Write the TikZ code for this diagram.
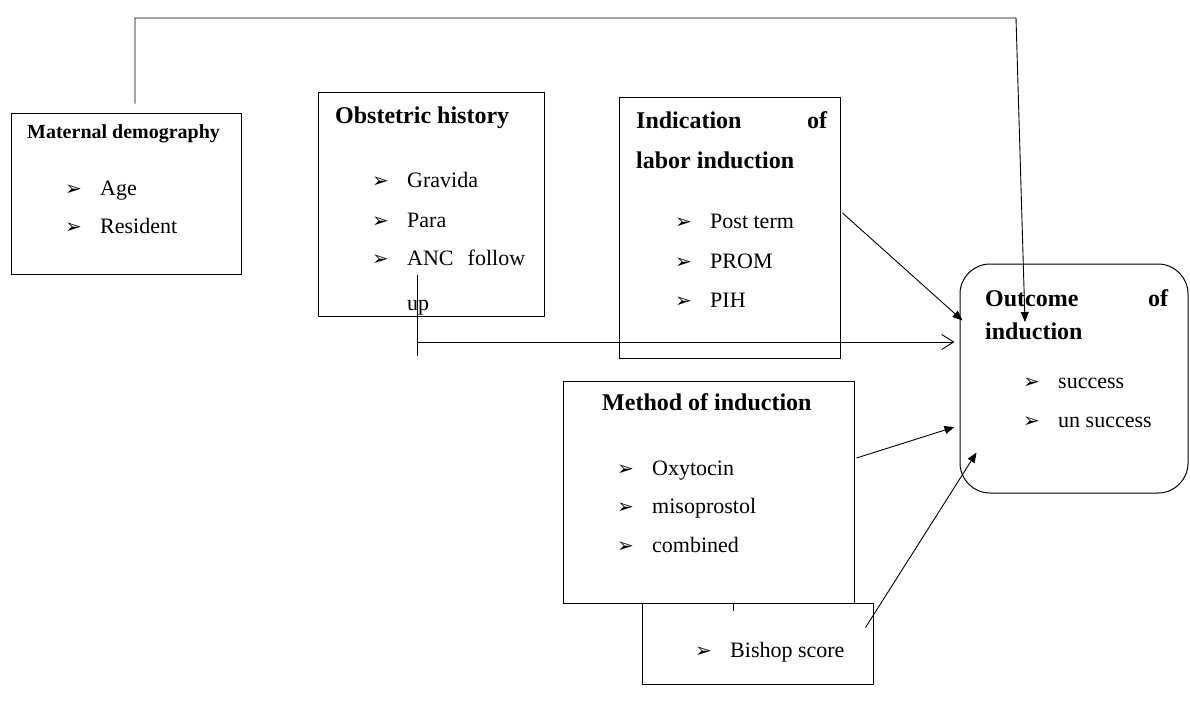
\documentclass[tikz,border=0pt]{standalone}
\usepackage{fontspec}
\setmainfont{Liberation Serif}
\newfontfamily\dejavu{DejaVu Sans}
\usetikzlibrary{arrows.meta,positioning}

\newcommand{\bul}{{\dejavu\fontsize{20}{20}\selectfont ➢}}
\newcommand{\itm}[1]{\makebox[35pt][l]{\bul}#1}

\begin{document}
\begin{tikzpicture}[x=1pt, y=-1pt,
    box/.style={draw, line width=1pt, inner sep=0pt},
    head/.style={anchor=base west, inner sep=0pt, font=\fontsize{24}{24}\selectfont\bfseries},
    item/.style={anchor=base west, inner sep=0pt, font=\fontsize{22}{22}\selectfont},
    link/.style={line width=0.9pt, -{Triangle[length=10pt,width=8pt]}},
    openlink/.style={line width=0.9pt, -{Straight Barb[length=12pt,width=15pt]}}
]
    \useasboundingbox (0,0) rectangle (1190,713);

    % Boxes
    \node[box, minimum width=230pt, minimum height=161pt] (mat) at (126,193.5) {};
    \node[box, minimum width=226pt, minimum height=224pt] (obs) at (431,204) {};
    \node[box, minimum width=221pt, minimum height=261pt] (ind) at (729.5,227.5) {};
    \node[box, rounded corners=30pt, minimum width=228pt, minimum height=229pt] (out) at (1074,378.5) {};
    \node[box, minimum width=291pt, minimum height=222pt] (meth) at (708.5,492) {};
    \node[box, minimum width=231pt, minimum height=81pt] (bish) at (757.5,643.5) {};

    % Maternal demography
    \node[head, font=\fontsize{20}{20}\selectfont\bfseries] (matH) at (27,138) {Maternal demography};
    \node[item] (matA) at (65,195) {\itm{Age}};
    \node[item] (matB) at (65,233) {\itm{Resident}};

    % Obstetric history
    \node[head] (obsH) at (335,123) {Obstetric history};
    \node[item] (obsA) at (372,187) {\itm{Gravida}};
    \node[item] (obsB) at (372,227) {\itm{Para}};
    \node[item] (obsC) at (372,265) {\itm{\makebox[118pt][s]{ANC follow}}};
    \node[item] (obsD) at (407,310) {up};

    % Indication of labor induction
    \node[head] (indH) at (636,128) {\makebox[191pt][s]{Indication of}};
    \node[head] (indH2) at (636,168) {labor induction};
    \node[item] (indA) at (675,228) {\itm{Post term}};
    \node[item] (indB) at (675,268) {\itm{PROM}};
    \node[item] (indC) at (675,307) {\itm{PIH}};

    % Outcome of induction
    \node[head] (outH) at (985,306) {\makebox[183pt][s]{Outcome of}};
    \node[head] (outH2) at (985,339) {induction};
    \node[item] (outA) at (1023,388) {\itm{success}};
    \node[item] (outB) at (1023,427) {\itm{un success}};

    % Method of induction
    \node[head] (methH) at (602,410) {Method of induction};
    \node[item] (methA) at (617,475) {\itm{Oxytocin}};
    \node[item] (methB) at (617,513) {\itm{misoprostol}};
    \node[item] (methC) at (617,552) {\itm{combined}};

    % Bishop score
    \node[item] (bishA) at (695,657) {\itm{Bishop score}};

    % Connectors
    \coordinate (topR) at (1016,18);
    \coordinate (topTip) at (1025,322);
    \draw[link] ([xshift=9pt,yshift=9pt]mat.north) |- (topR) -- (topTip);

    \coordinate (ancT) at (417,275);
    \coordinate (ancB) at (417,356);
    \coordinate (ancJ) at (417,342);
    \draw[line width=0.9pt] (ancT) -- (ancB);
    \draw[openlink, shorten >=5pt] (ancJ) -- (out.west |- ancJ);

    \draw[link] ([xshift=2pt,yshift=14.5pt]ind.east) -- ([xshift=3pt,yshift=58pt]out.west);
    \draw[link] ([xshift=2pt,yshift=34pt]meth.east) -- ([xshift=-5pt,yshift=-48.5pt]out.west);
    \draw[link] ([xshift=-8pt,yshift=-25pt]bish.north east) -- ([xshift=17pt,yshift=41pt]out.south west);

    \draw[line width=0.9pt] ([xshift=24.5pt]meth.south) -- ++(0,7);
\end{tikzpicture}
\end{document}
